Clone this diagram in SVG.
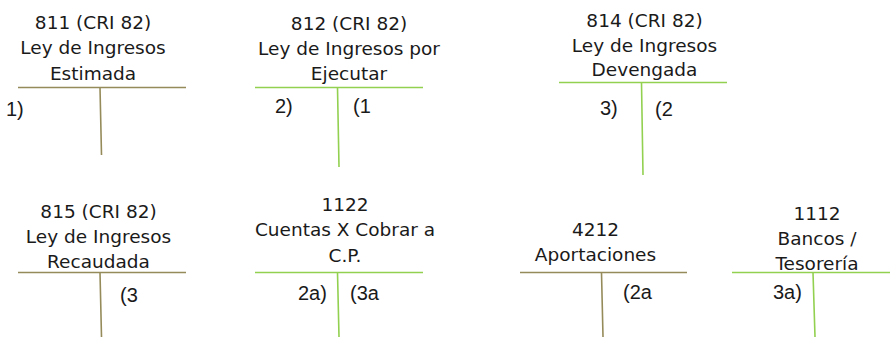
<svg xmlns="http://www.w3.org/2000/svg" width="890" height="337" viewBox="0 0 890 337">
<style>
.h{font-family:"DejaVu Sans",sans-serif;font-size:18.5px;fill:#1a1a1a;text-anchor:middle}
.l{font-family:"Liberation Sans",Arial,sans-serif;font-size:20px;fill:#1a1a1a}
.olive{stroke:#958b5a;stroke-width:1.6;fill:none}
.green{stroke:#92d050;stroke-width:1.6;fill:none}
</style>
<rect width="890" height="337" fill="#fff"/>
<g id="connectors">
<path class="olive" d="M18 87.5H186M100 87.5L101.5 155"/>
<path class="green" d="M255 87.5H423M337.5 87.5L339 167"/>
<path class="green" d="M559 82.5H727M641.5 82.5L643 175"/>
<path class="olive" d="M18 272.5H186M100 272.5L101.5 337"/>
<path class="green" d="M255 272.5H423M337.5 272.5L339 337"/>
<path class="olive" d="M520 272.5H687M601.5 272.5L603 337"/>
<path class="green" d="M732 272.5H890M813 272.5L815 337"/>
</g>
<g id="n811">
<text class="h" x="93" y="29">811 (CRI 82)</text>
<text class="h" x="93" y="54">Ley de Ingresos</text>
<text class="h" x="93" y="80">Estimada</text>
<text class="l" x="6" y="116">1)</text>
</g>
<g id="n812">
<text class="h" x="349" y="30">812 (CRI 82)</text>
<text class="h" x="349" y="55">Ley de Ingresos por</text>
<text class="h" x="349" y="80">Ejecutar</text>
<text class="l" x="275" y="113">2)</text>
<text class="l" x="353" y="113">(1</text>
</g>
<g id="n814">
<text class="h" x="644.5" y="27">814 (CRI 82)</text>
<text class="h" x="644.5" y="52">Ley de Ingresos</text>
<text class="h" x="644.5" y="76">Devengada</text>
<text class="l" x="600" y="115">3)</text>
<text class="l" x="655" y="116">(2</text>
</g>
<g id="n815">
<text class="h" x="98.5" y="218">815 (CRI 82)</text>
<text class="h" x="98.5" y="243">Ley de Ingresos</text>
<text class="h" x="98.5" y="268">Recaudada</text>
<text class="l" x="120" y="302">(3</text>
</g>
<g id="n1122">
<text class="h" x="345" y="211">1122</text>
<text class="h" x="345" y="236">Cuentas X Cobrar a</text>
<text class="h" x="345" y="262">C.P.</text>
<text class="l" x="298" y="300">2a)</text>
<text class="l" x="350" y="300">(3a</text>
</g>
<g id="n4212">
<text class="h" x="595.5" y="236">4212</text>
<text class="h" x="595.5" y="261">Aportaciones</text>
<text class="l" x="623" y="299">(2a</text>
</g>
<g id="n1112">
<text class="h" x="817" y="220">1112</text>
<text class="h" x="817" y="245">Bancos /</text>
<text class="h" x="817" y="270">Tesorería</text>
<text class="l" x="773" y="299">3a)</text>
</g>
</svg>
